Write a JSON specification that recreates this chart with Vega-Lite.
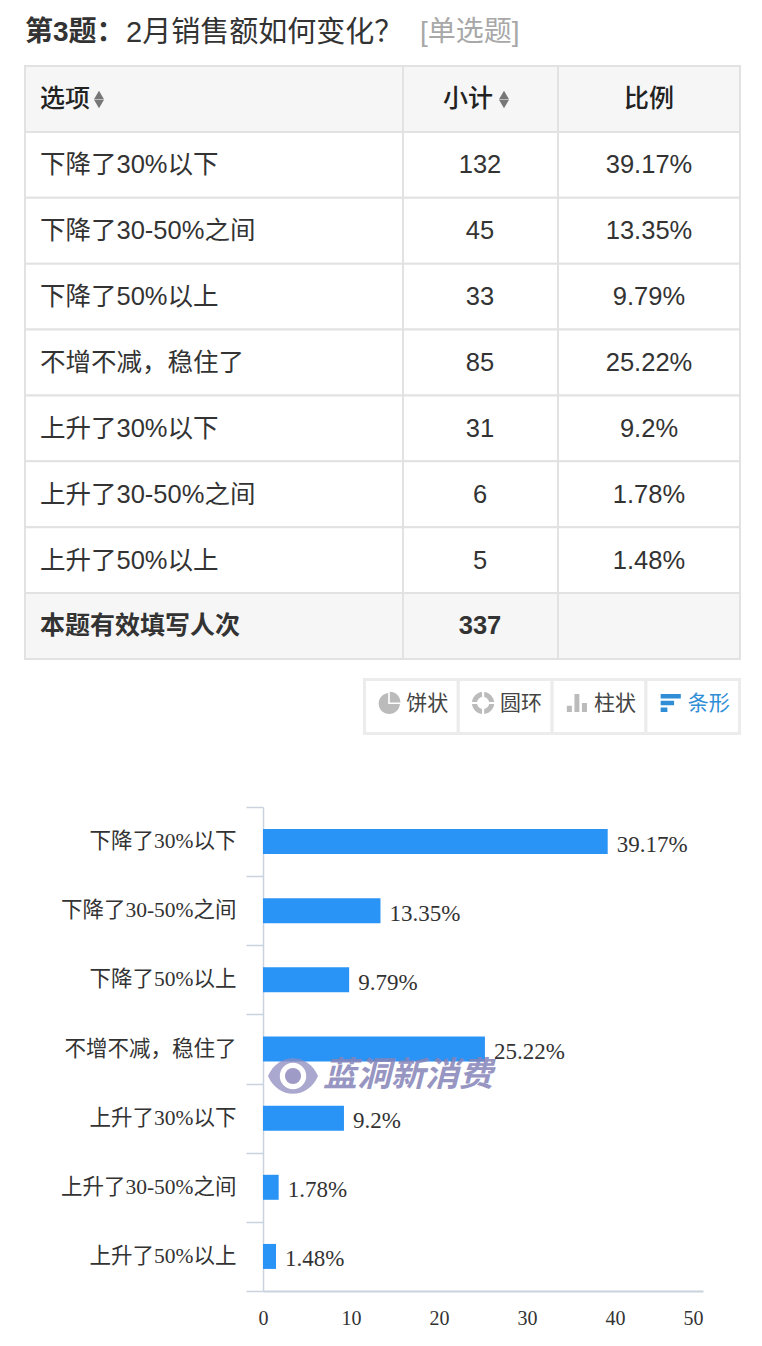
{
"$schema":"https://vega.github.io/schema/vega-lite/v6.json",
"width":762,"height":1346,"autosize":{"type":"none"},"padding":0,"background":"#ffffff",
"config":{"view":{"stroke":null},"font":"Liberation Sans, Noto Sans CJK SC"},
"datasets":{
"cells":[
{"row":"表头","kind":"head","col":"选项","text":"选项"},{"row":"表头","kind":"head","col":"小计","text":"小计"},{"row":"表头","kind":"head","col":"比例","text":"比例"},
{"row":"下降了30%以下","kind":"body","col":"选项","text":"下降了30%以下"},{"row":"下降了30%以下","kind":"body","col":"小计","text":"132"},{"row":"下降了30%以下","kind":"body","col":"比例","text":"39.17%"},
{"row":"下降了30-50%之间","kind":"body","col":"选项","text":"下降了30-50%之间"},{"row":"下降了30-50%之间","kind":"body","col":"小计","text":"45"},{"row":"下降了30-50%之间","kind":"body","col":"比例","text":"13.35%"},
{"row":"下降了50%以上","kind":"body","col":"选项","text":"下降了50%以上"},{"row":"下降了50%以上","kind":"body","col":"小计","text":"33"},{"row":"下降了50%以上","kind":"body","col":"比例","text":"9.79%"},
{"row":"不增不减，稳住了","kind":"body","col":"选项","text":"不增不减，稳住了"},{"row":"不增不减，稳住了","kind":"body","col":"小计","text":"85"},{"row":"不增不减，稳住了","kind":"body","col":"比例","text":"25.22%"},
{"row":"上升了30%以下","kind":"body","col":"选项","text":"上升了30%以下"},{"row":"上升了30%以下","kind":"body","col":"小计","text":"31"},{"row":"上升了30%以下","kind":"body","col":"比例","text":"9.2%"},
{"row":"上升了30-50%之间","kind":"body","col":"选项","text":"上升了30-50%之间"},{"row":"上升了30-50%之间","kind":"body","col":"小计","text":"6"},{"row":"上升了30-50%之间","kind":"body","col":"比例","text":"1.78%"},
{"row":"上升了50%以上","kind":"body","col":"选项","text":"上升了50%以上"},{"row":"上升了50%以上","kind":"body","col":"小计","text":"5"},{"row":"上升了50%以上","kind":"body","col":"比例","text":"1.48%"},
{"row":"本题有效填写人次","kind":"foot","col":"选项","text":"本题有效填写人次"},{"row":"本题有效填写人次","kind":"foot","col":"小计","text":"337"},{"row":"本题有效填写人次","kind":"foot","col":"比例","text":""}
],
"bars":[
{"option":"下降了30%以下","pct":39.17,"label":"39.17%"},
{"option":"下降了30-50%之间","pct":13.35,"label":"13.35%"},
{"option":"下降了50%以上","pct":9.79,"label":"9.79%"},
{"option":"不增不减，稳住了","pct":25.22,"label":"25.22%"},
{"option":"上升了30%以下","pct":9.2,"label":"9.2%"},
{"option":"上升了30-50%之间","pct":1.78,"label":"1.78%"},
{"option":"上升了50%以上","pct":1.48,"label":"1.48%"}
],
"buttons":[
{"name":"饼状","state":"off","bar":"按钮"},{"name":"圆环","state":"off","bar":"按钮"},{"name":"柱状","state":"off","bar":"按钮"},{"name":"条形","state":"on","bar":"按钮"}
],
"sort":[
{"col":"选项","dir":"up"},{"col":"选项","dir":"down"},{"col":"小计","dir":"up"},{"col":"小计","dir":"down"}
]
},
"resolve":{"scale":{"x":"independent","y":"independent","color":"independent","shape":"independent","size":"independent"},"axis":{"x":"independent","y":"independent"}},
"layer":[
{"data":{"values":[{"t":"第3题："}]},"mark":{"type":"text","align":"left","baseline":"middle","fontSize":28,"fontWeight":"bold","color":"#333333"},
"encoding":{"x":{"field":"t","type":"nominal","axis":null,"scale":{"type":"point","range":[25,25]}},"y":{"field":"t","type":"nominal","axis":null,"scale":{"type":"point","range":[33,33]}},"text":{"field":"t"}}},
{"data":{"values":[{"t":"2月销售额如何变化？"}]},"mark":{"type":"text","align":"left","baseline":"middle","fontSize":29,"color":"#333333"},
"encoding":{"x":{"field":"t","type":"nominal","axis":null,"scale":{"type":"point","range":[126,126]}},"y":{"field":"t","type":"nominal","axis":null,"scale":{"type":"point","range":[33,33]}},"text":{"field":"t"}}},
{"data":{"values":[{"t":"[单选题]"}]},"mark":{"type":"text","align":"left","baseline":"middle","fontSize":28,"color":"#a8a8a8"},
"encoding":{"x":{"field":"t","type":"nominal","axis":null,"scale":{"type":"point","range":[420,420]}},"y":{"field":"t","type":"nominal","axis":null,"scale":{"type":"point","range":[33,33]}},"text":{"field":"t"}}},

{"data":{"name":"cells"},"transform":[{"filter":"datum.col==='选项'"}],"mark":{"type":"rect","stroke":"#e2e2e2","strokeWidth":2},
"encoding":{"x":{"field":"col","type":"nominal","axis":null,"scale":{"type":"band","range":[25,403]}},
"y":{"field":"row","type":"nominal","axis":null,"sort":null,"scale":{"type":"band","range":[66,659]}},
"color":{"field":"kind","type":"nominal","legend":null,"scale":{"domain":["head","body","foot"],"range":["#f6f6f6","#ffffff","#f6f6f6"]}}}},
{"data":{"name":"cells"},"transform":[{"filter":"datum.col==='小计'"}],"mark":{"type":"rect","stroke":"#e2e2e2","strokeWidth":2},
"encoding":{"x":{"field":"col","type":"nominal","axis":null,"scale":{"type":"band","range":[403,558]}},
"y":{"field":"row","type":"nominal","axis":null,"sort":null,"scale":{"type":"band","range":[66,659]}},
"color":{"field":"kind","type":"nominal","legend":null,"scale":{"domain":["head","body","foot"],"range":["#f6f6f6","#ffffff","#f6f6f6"]}}}},
{"data":{"name":"cells"},"transform":[{"filter":"datum.col==='比例'"}],"mark":{"type":"rect","stroke":"#e2e2e2","strokeWidth":2},
"encoding":{"x":{"field":"col","type":"nominal","axis":null,"scale":{"type":"band","range":[558,740]}},
"y":{"field":"row","type":"nominal","axis":null,"sort":null,"scale":{"type":"band","range":[66,659]}},
"color":{"field":"kind","type":"nominal","legend":null,"scale":{"domain":["head","body","foot"],"range":["#f6f6f6","#ffffff","#f6f6f6"]}}}},

{"data":{"name":"cells"},"transform":[{"filter":"datum.col==='选项' && datum.kind==='body'"}],"mark":{"type":"text","align":"left","baseline":"middle","fontSize":25.5,"color":"#333333"},
"encoding":{"x":{"field":"col","type":"nominal","axis":null,"scale":{"type":"point","range":[40,40]}},
"y":{"field":"row","type":"nominal","axis":null,"sort":null,"scale":{"type":"band","range":[132,594]}},
"text":{"field":"text"}}},
{"data":{"name":"cells"},"transform":[{"filter":"datum.col==='选项' && datum.kind==='head'"}],"mark":{"type":"text","align":"left","baseline":"middle","fontSize":25,"fontWeight":500,"color":"#222222"},
"encoding":{"x":{"field":"col","type":"nominal","axis":null,"scale":{"type":"point","range":[40,40]}},
"y":{"field":"row","type":"nominal","axis":null,"scale":{"type":"point","range":[99,99]}},
"text":{"field":"text"}}},
{"data":{"name":"cells"},"transform":[{"filter":"datum.col==='选项' && datum.kind==='foot'"}],"mark":{"type":"text","align":"left","baseline":"middle","fontSize":25,"fontWeight":"bold","color":"#333333"},
"encoding":{"x":{"field":"col","type":"nominal","axis":null,"scale":{"type":"point","range":[40,40]}},
"y":{"field":"row","type":"nominal","axis":null,"scale":{"type":"point","range":[626,626]}},
"text":{"field":"text"}}},

{"data":{"name":"cells"},"transform":[{"filter":"datum.col==='小计' && datum.kind==='body'"}],"mark":{"type":"text","align":"center","baseline":"middle","fontSize":25.5,"color":"#333333"},
"encoding":{"x":{"field":"col","type":"nominal","axis":null,"scale":{"type":"point","range":[480,480]}},
"y":{"field":"row","type":"nominal","axis":null,"sort":null,"scale":{"type":"band","range":[132,594]}},
"text":{"field":"text"}}},
{"data":{"name":"cells"},"transform":[{"filter":"datum.col==='小计' && datum.kind==='foot'"}],"mark":{"type":"text","align":"center","baseline":"middle","fontSize":25.5,"fontWeight":"bold","color":"#333333"},
"encoding":{"x":{"field":"col","type":"nominal","axis":null,"scale":{"type":"point","range":[480,480]}},
"y":{"field":"row","type":"nominal","axis":null,"scale":{"type":"point","range":[626,626]}},
"text":{"field":"text"}}},
{"data":{"name":"cells"},"transform":[{"filter":"datum.col==='小计' && datum.kind==='head'"}],"mark":{"type":"text","align":"center","baseline":"middle","fontSize":25,"fontWeight":500,"color":"#222222"},
"encoding":{"x":{"field":"col","type":"nominal","axis":null,"scale":{"type":"point","range":[468,468]}},
"y":{"field":"row","type":"nominal","axis":null,"scale":{"type":"point","range":[99,99]}},
"text":{"field":"text"}}},

{"data":{"name":"cells"},"transform":[{"filter":"datum.col==='比例' && datum.kind==='body'"}],"mark":{"type":"text","align":"center","baseline":"middle","fontSize":25.5,"color":"#333333"},
"encoding":{"x":{"field":"col","type":"nominal","axis":null,"scale":{"type":"point","range":[649,649]}},
"y":{"field":"row","type":"nominal","axis":null,"sort":null,"scale":{"type":"band","range":[132,594]}},
"text":{"field":"text"}}},
{"data":{"name":"cells"},"transform":[{"filter":"datum.col==='比例' && datum.kind==='head'"}],"mark":{"type":"text","align":"center","baseline":"middle","fontSize":25,"fontWeight":500,"color":"#222222"},
"encoding":{"x":{"field":"col","type":"nominal","axis":null,"scale":{"type":"point","range":[649,649]}},
"y":{"field":"row","type":"nominal","axis":null,"scale":{"type":"point","range":[99,99]}},
"text":{"field":"text"}}},

{"data":{"name":"sort"},"mark":{"type":"point","filled":true,"size":100,"color":"#777777","opacity":1},
"encoding":{"x":{"field":"col","type":"nominal","axis":null,"sort":null,"scale":{"type":"point","padding":0,"range":[99,504]}},
"y":{"field":"dir","type":"nominal","axis":null,"sort":null,"scale":{"type":"point","padding":0,"range":[95,104]}},
"shape":{"field":"dir","type":"nominal","legend":null,"scale":{"domain":["up","down"],"range":["triangle-up","triangle-down"]}}}},

{"data":{"values":[{"panel":"图表类型"}]},"mark":{"type":"rect","color":"#ececec"},
"encoding":{"x":{"field":"panel","type":"nominal","axis":null,"scale":{"type":"band","range":[363,741]}},"y":{"field":"panel","type":"nominal","axis":null,"scale":{"type":"band","range":[678,735]}}}},
{"data":{"name":"buttons"},"mark":{"type":"rect","color":"#ffffff"},
"encoding":{"x":{"field":"name","type":"nominal","axis":null,"sort":null,"scale":{"type":"band","range":[366,738],"paddingInner":0.035,"paddingOuter":0}},"y":{"field":"bar","type":"nominal","axis":null,"scale":{"type":"band","range":[681,732]}}}},
{"data":{"name":"buttons"},"mark":{"type":"point","filled":true,"size":500,"opacity":1,"xOffset":-22},
"encoding":{"x":{"field":"name","type":"nominal","axis":null,"sort":null,"scale":{"type":"band","range":[366,738],"paddingInner":0.035,"paddingOuter":0}},"y":{"field":"bar","type":"nominal","axis":null,"scale":{"type":"point","range":[703,703]}},
"shape":{"field":"name","type":"nominal","legend":null,"scale":{"domain":["饼状","圆环","柱状","条形"],"range":[
"M-0.1,-0.9A0.95,0.95,0,1,0,0.95,0.1L-0.1,0.1ZM0.05,-1A0.95,0.95,0,0,1,1,-0.05L0.05,-0.05Z",
"M0.1,-0.99A1,1,0,0,1,0.99,-0.1L0.54,-0.1A0.55,0.55,0,0,0,0.1,-0.54ZM0.99,0.1A1,1,0,0,1,0.1,0.99L0.1,0.54A0.55,0.55,0,0,0,0.54,0.1ZM-0.1,0.99A1,1,0,0,1,-0.99,0.1L-0.54,0.1A0.55,0.55,0,0,0,-0.1,0.54ZM-0.99,-0.1A1,1,0,0,1,-0.1,-0.99L-0.1,-0.54A0.55,0.55,0,0,0,-0.54,-0.1Z",
"M-0.9,0.25H-0.45V0.8H-0.9ZM-0.22,-0.8H0.22V0.8H-0.22ZM0.45,0H0.9V0.8H0.45Z",
"M-0.9,-0.8H0.9V-0.4H-0.9ZM-0.9,-0.2H0.3V0.2H-0.9ZM-0.9,0.4H-0.3V0.8H-0.9Z"]}},
"color":{"field":"state","type":"nominal","legend":null,"scale":{"domain":["off","on"],"range":["#bbbbbb","#2f8ed6"]}}}},
{"data":{"name":"buttons"},"mark":{"type":"text","align":"center","baseline":"middle","fontSize":21,"dx":16},
"encoding":{"x":{"field":"name","type":"nominal","axis":null,"sort":null,"scale":{"type":"band","range":[366,738],"paddingInner":0.035,"paddingOuter":0}},"y":{"field":"bar","type":"nominal","axis":null,"scale":{"type":"point","range":[704,704]}},
"text":{"field":"name"},
"color":{"field":"state","type":"nominal","legend":null,"scale":{"domain":["off","on"],"range":["#444444","#2f8ed6"]}}}},

{"data":{"name":"bars"},"mark":{"type":"bar","size":25,"color":"#2a93f6"},
"encoding":{"x":{"field":"pct","type":"quantitative","scale":{"domain":[0,50],"range":[263,703],"nice":false},
"axis":{"title":null,"values":[0,10,20,30,40,50],"ticks":false,"grid":false,"domainColor":"#c9d3dd","domainWidth":2,"offset":-55,"labelFont":"Liberation Serif","labelFontSize":20,"labelColor":"#333333","labelPadding":17,"labelAlign":{"condition":{"test":"datum.value === 50","value":"right"},"value":"center"}}},
"y":{"field":"option","type":"nominal","sort":null,"scale":{"type":"band","range":[807,1291],"padding":0},
"axis":{"title":null,"tickBand":"extent","tickSize":17,"tickColor":"#c9d3dd","tickWidth":1.5,"domainColor":"#c9d3dd","domainWidth":1.5,"offset":-263,"labelFont":"Liberation Serif, Noto Sans CJK SC","labelFontSize":21.5,"labelColor":"#333333","labelPadding":10,"labelLimit":300}}}},
{"data":{"name":"bars"},"mark":{"type":"text","align":"left","baseline":"middle","font":"Liberation Serif","fontSize":23,"color":"#333333","dx":9,"dy":3},
"encoding":{"x":{"field":"pct","type":"quantitative","axis":null,"scale":{"domain":[0,50],"range":[263,703],"nice":false}},
"y":{"field":"option","type":"nominal","axis":null,"sort":null,"scale":{"type":"band","range":[807,1291],"padding":0}},
"text":{"field":"label"}}},

{"data":{"values":[{"mark":"水印","part":"eye"}]},"mark":{"type":"point","filled":true,"size":2500,"opacity":0.75,"color":"#8d8bbd"},
"encoding":{"x":{"field":"mark","type":"nominal","axis":null,"scale":{"type":"point","range":[293,293]}},"y":{"field":"mark","type":"nominal","axis":null,"scale":{"type":"point","range":[1076,1076]}},
"shape":{"field":"part","type":"nominal","legend":null,"scale":{"domain":["eye"],"range":["M-1,0C-0.6,-0.95,0.6,-0.95,1,0C0.6,0.95,-0.6,0.95,-1,0Z"]}}}},
{"data":{"values":[{"mark":"水印"}]},"mark":{"type":"circle","size":700,"color":"#ffffff","opacity":1},
"encoding":{"x":{"field":"mark","type":"nominal","axis":null,"scale":{"type":"point","range":[293,293]}},"y":{"field":"mark","type":"nominal","axis":null,"scale":{"type":"point","range":[1076,1076]}}}},
{"data":{"values":[{"mark":"水印"}]},"mark":{"type":"circle","size":260,"color":"#8d8bbd","opacity":0.85},
"encoding":{"x":{"field":"mark","type":"nominal","axis":null,"scale":{"type":"point","range":[293,293]}},"y":{"field":"mark","type":"nominal","axis":null,"scale":{"type":"point","range":[1076,1076]}}}},
{"data":{"values":[{"t":"蓝洞新消费"}]},"mark":{"type":"text","align":"left","baseline":"middle","font":"Noto Sans CJK SC","fontSize":34,"fontWeight":"bold","fontStyle":"italic","color":"#8583b8","opacity":0.85},
"encoding":{"x":{"field":"t","type":"nominal","axis":null,"scale":{"type":"point","range":[323,323]}},"y":{"field":"t","type":"nominal","axis":null,"scale":{"type":"point","range":[1076,1076]}},"text":{"field":"t"}}}
]
}
